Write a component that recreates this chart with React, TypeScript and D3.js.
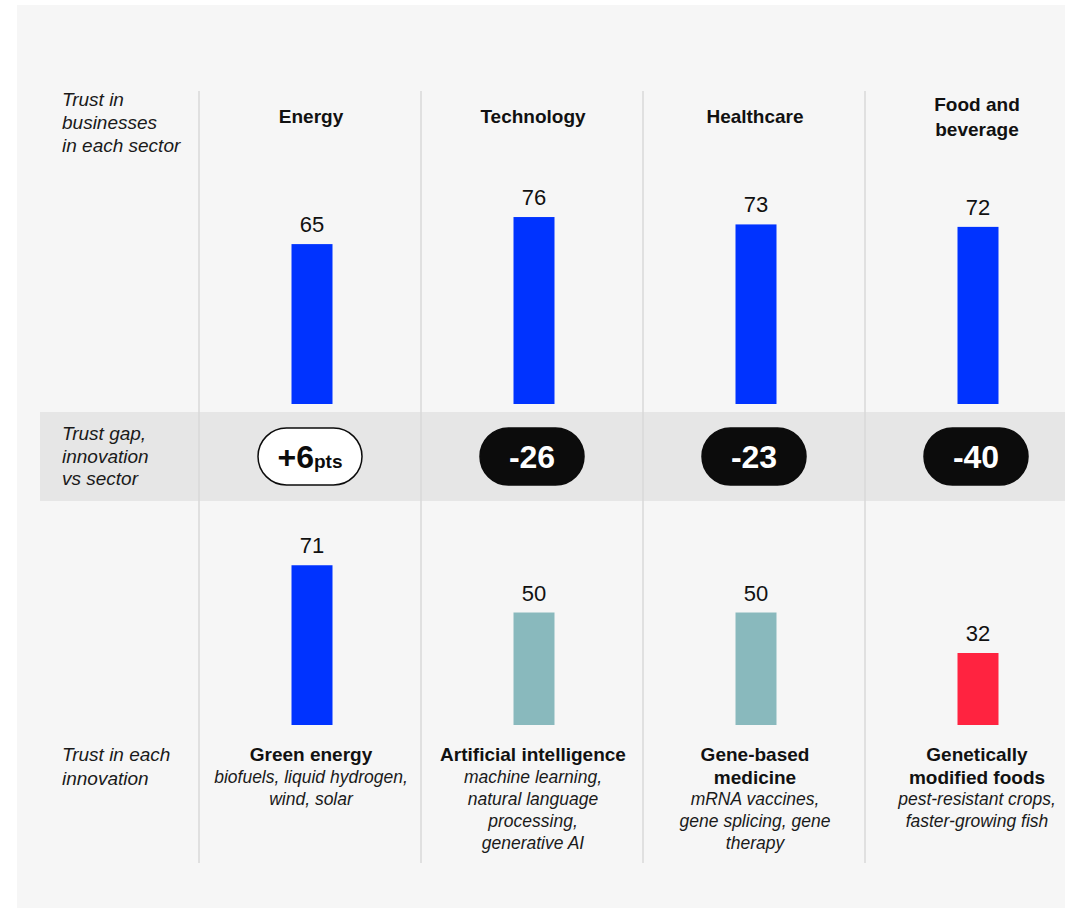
import React from "react";
import * as d3 from "d3";

const sectors = ["Energy", "Technology", "Healthcare", "Food and beverage"];
const sectorTrust = [65, 76, 73, 72];
const gapLabels = ["+6", "-26", "-23", "-40"];
const innovationTrust = [71, 50, 50, 32];
const innovationColors = ["#0033ff", "#89b9bd", "#89b9bd", "#ff2340"];
const sectorHeaderLines = [["Energy"], ["Technology"], ["Healthcare"], ["Food and", "beverage"]];
const innovationTitleLines = [["Green energy"], ["Artificial intelligence"], ["Gene-based", "medicine"], ["Genetically", "modified foods"]];
const innovationDescLines = [
  ["biofuels, liquid hydrogen,", "wind, solar"],
  ["machine learning,", "natural language", "processing,", "generative AI"],
  ["mRNA vaccines,", "gene splicing, gene", "therapy"],
  ["pest-resistant crops,", "faster-growing fish"],
];

const W = 1074;
const H = 908;
const FONT = "'Liberation Sans', Arial, sans-serif";

export default function App() {
  const x = d3.scaleBand<string>().domain(sectors).range([199, 1087]).paddingInner(0).paddingOuter(0);
  const cx = (s: string) => (x(s) as number) + 113;
  const barW = 41;
  const yTop = d3.scaleLinear().domain([0, 100]).range([404, 158]);
  const yBot = d3.scaleLinear().domain([0, 100]).range([725, 500]);

  return (
    <svg width={W} height={H} style={{ position: "absolute", left: 0, top: 0 }} fontFamily={FONT}>
      <rect x={0} y={0} width={W} height={H} fill="#ffffff" />
      <rect x={17} y={5} width={1048} height={H - 5} fill="#f6f6f6" />
      <rect x={40} y={412} width={1025} height={89} fill="#e6e6e6" />
      {[199, 421, 643, 865].map((lx) => (
        <line key={lx} x1={lx} x2={lx} y1={91} y2={863} stroke="#d9d9d9" strokeWidth={1.5} />
      ))}

      {/* row labels */}
      <g fontStyle="italic" fontSize={19} fill="#1a1a1a">
        {["Trust in", "businesses", "in each sector"].map((t, i) => (
          <text key={t} x={62} y={106 + i * 23}>{t}</text>
        ))}
        {["Trust gap,", "innovation", "vs sector"].map((t, i) => (
          <text key={t} x={62} y={440 + i * 22.5}>{t}</text>
        ))}
        {["Trust in each", "innovation"].map((t, i) => (
          <text key={t} x={62} y={761 + i * 24}>{t}</text>
        ))}
      </g>

      {sectors.map((s, i) => {
        const c = cx(s);
        const hdr = sectorHeaderLines[i];
        const hy = hdr.length === 1 ? 123 : 111;
        const v = sectorTrust[i];
        const vb = innovationTrust[i];
        const isPos = gapLabels[i].startsWith("+");
        const pc = c - 2;
        return (
          <g key={s}>
            {hdr.map((t, j) => (
              <text key={t} x={c - 1} y={hy + j * 25} textAnchor="middle" fontWeight="bold" fontSize={19} fill="#111">{t}</text>
            ))}
            <rect x={c - barW / 2} y={yTop(v)} width={barW} height={yTop(0) - yTop(v)} fill="#0033ff" />
            <text x={c} y={yTop(v) - 12} textAnchor="middle" fontSize={22} fill="#111">{v}</text>

            <rect
              x={pc - 52}
              y={428}
              width={104}
              height={57}
              rx={28.5}
              fill={isPos ? "#ffffff" : "#0c0c0c"}
              stroke="#0c0c0c"
              strokeWidth={1.5}
            />
            <text x={pc} y={468} textAnchor="middle" fontWeight="bold" fontSize={32} fill={isPos ? "#0c0c0c" : "#ffffff"}>
              {gapLabels[i]}
              {isPos ? <tspan fontSize={19}>pts</tspan> : null}
            </text>

            <rect x={c - barW / 2} y={yBot(vb)} width={barW} height={yBot(0) - yBot(vb)} fill={innovationColors[i]} />
            <text x={c} y={yBot(vb) - 12} textAnchor="middle" fontSize={22} fill="#111">{vb}</text>

            {innovationTitleLines[i].map((t, j) => (
              <text key={t} x={c - 1} y={761 + j * 23} textAnchor="middle" fontWeight="bold" fontSize={19} fill="#111">{t}</text>
            ))}
            {innovationDescLines[i].map((t, j) => (
              <text
                key={t}
                x={c - 1}
                y={761 + innovationTitleLines[i].length * 22 + j * 22}
                textAnchor="middle"
                fontStyle="italic"
                fontSize={17.5}
                fill="#1a1a1a"
              >
                {t}
              </text>
            ))}
          </g>
        );
      })}
    </svg>
  );
}
